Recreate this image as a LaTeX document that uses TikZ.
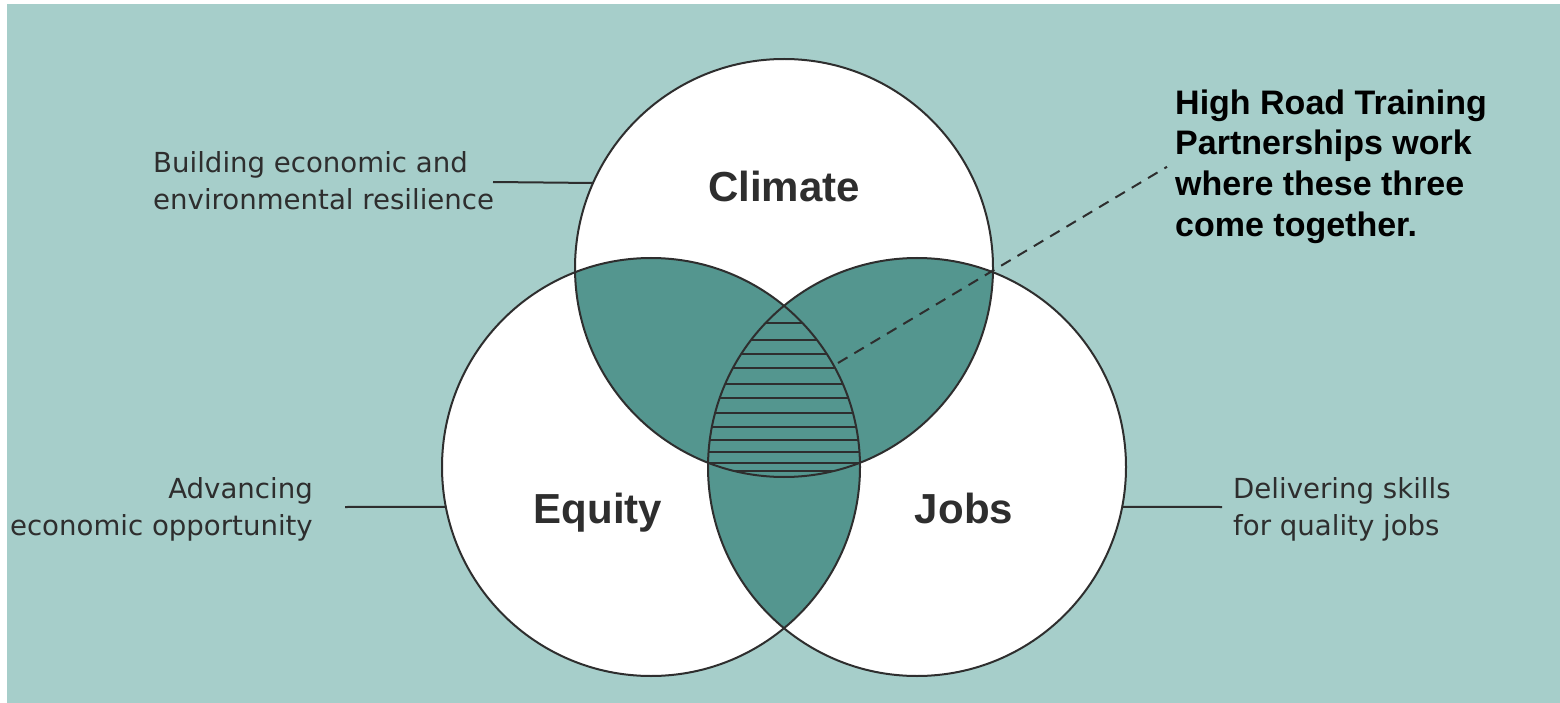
\documentclass[tikz,border=0pt]{standalone}
\usepackage{fontspec}
\setmainfont{Liberation Sans}
\newfontfamily\dvsans{DejaVu Sans}
\definecolor{bgteal}{HTML}{A6CECA}
\definecolor{lensteal}{HTML}{54968F}
\definecolor{ink}{HTML}{2E2E2E}
\begin{document}
\begin{tikzpicture}[x=1pt,y=-1pt,
  venn/.style={circle, minimum size=418pt, inner sep=0pt, outer sep=0pt, draw=ink, line width=2pt},
  bigword/.style={font=\fontsize{42}{48}\selectfont\bfseries, text=ink, inner sep=0pt},
  smalltext/.style={font=\dvsans\fontsize{27.6}{37}\selectfont, text=ink, inner sep=0pt},
  boldtext/.style={font=\fontsize{34}{41}\selectfont\bfseries, text=black, inner sep=0pt},
  conn/.style={draw=ink, line width=2pt},
  hatchline/.style={draw=ink, line width=2pt},
  dashline/.style={draw=ink, line width=2pt, dash pattern=on 11pt off 8pt}]
\useasboundingbox (0,0) rectangle (1560,703);
\fill[white] (0,0) rectangle (1560,703);
\fill[bgteal] (7,4) rectangle (1560,703);
\coordinate (C) at (784,268);
\coordinate (E) at (651,467);
\coordinate (J) at (917,467);
\fill[white] (C) circle[radius=209pt] (E) circle[radius=209pt] (J) circle[radius=209pt];
\begin{scope}
  \clip (C) circle[radius=209pt];
  \fill[lensteal] (E) circle[radius=209pt] (J) circle[radius=209pt];
\end{scope}
\begin{scope}
  \clip (E) circle[radius=209pt];
  \fill[lensteal] (J) circle[radius=209pt];
\end{scope}
\begin{scope}
  \clip (C) circle[radius=209pt];
  \clip (E) circle[radius=209pt];
  \clip (J) circle[radius=209pt];
  \foreach \yy in {323,340,354,368,384,398,413,427,440,452,463,471}
    \draw[hatchline] (690,\yy) -- (880,\yy);
\end{scope}
\node[venn] (clim) at (C) {};
\node[venn] (eq) at (E) {};
\node[venn] (jobs) at (J) {};
% big words
\node[bigword, anchor=base] (tclim) at (784,202) {Climate};
\node[bigword, anchor=base] (teq) at (598,523) {Equity};
\node[bigword, anchor=base] (tjobs) at (964,523) {Jobs};
% side labels (base anchor = baseline of last line)
\node[smalltext, anchor=base west, align=left] (lclim) at (153,210) {Building economic and\\environmental resilience};
\node[smalltext, anchor=base east, align=right] (leq) at (313,535) {Advancing\\economic opportunity};
\node[smalltext, anchor=base west, align=left] (ljobs) at (1233,535) {Delivering skills\\for quality jobs};
\node[boldtext, anchor=base west, align=left, inner xsep=8pt] (hr) at (1167,237) {High Road Training\\Partnerships work\\where these three\\come together.};
% connectors
\coordinate (c1) at (493,182);
\coordinate (c2) at (345,507);
\coordinate (c3) at (1222,507);
\draw[conn] (c1) -- (clim.156);
\draw[conn] (c2) -- (eq.191);
\draw[conn] (jobs.-11) -- (c3);
\coordinate (d0) at (838,363);
\draw[dashline] (d0) -- (hr.west);
\end{tikzpicture}
\end{document}
